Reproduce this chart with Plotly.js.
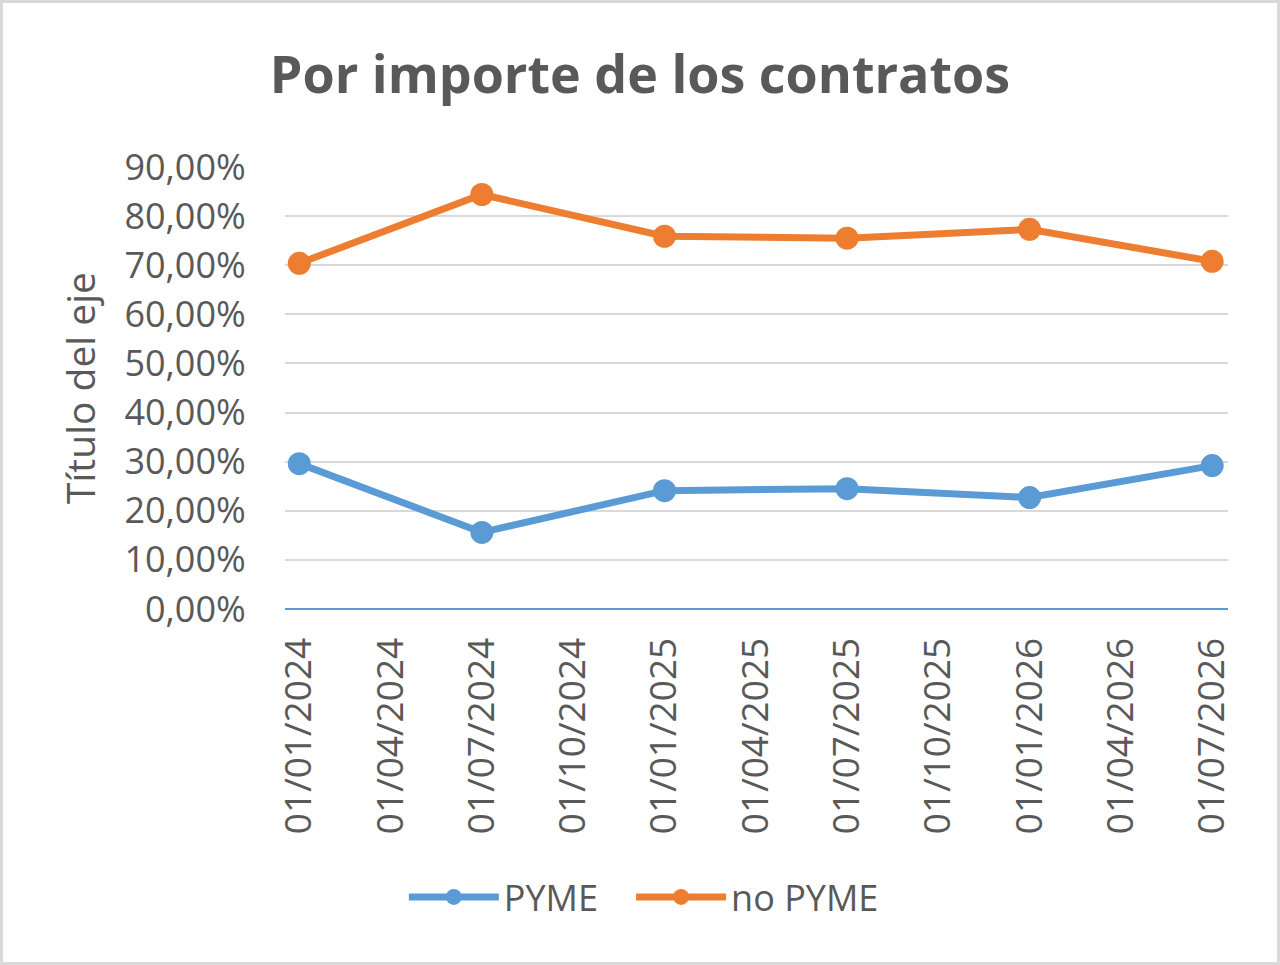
<!DOCTYPE html>
<html>
<head>
<meta charset="utf-8">
<script src="https://cdn.plot.ly/plotly-3.0.1.min.js"></script>
<style>
  html, body { margin: 0; padding: 0; background: #fff; }
  #wrap { position: relative; width: 1280px; height: 965px; }
  #chart { width: 1280px; height: 965px; }
  #frame { position: absolute; left: 0; top: 0; width: 1280px; height: 965px;
           box-sizing: border-box; border: 3px solid #D9D9D9; pointer-events: none; }
</style>
</head>
<body>
<div id="wrap"><div id="chart"></div><div id="frame"></div></div>
<script>
// Fechas de corte (dd/mm/aaaa) y porcentaje del importe adjudicado
const fechas = ["01/01/2024", "01/07/2024", "01/01/2025", "01/07/2025", "01/01/2026", "01/07/2026"];
const pyme   = [0.296, 0.156, 0.241, 0.245, 0.227, 0.292];
const noPyme = [0.704, 0.844, 0.759, 0.755, 0.773, 0.708];
const series = ["PYME", "no PYME"];

// Etiquetas del eje horizontal: trimestral
const etiquetasEje = ["01/01/2024", "01/04/2024", "01/07/2024", "01/10/2024",
                      "01/01/2025", "01/04/2025", "01/07/2025", "01/10/2025",
                      "01/01/2026", "01/04/2026", "01/07/2026"];

// Posición en meses desde enero de 2024 (eje de fechas con unidad base mensual)
function mesIndice(s) {
  const [d, m, y] = s.split("/").map(Number);
  return (y - 2024) * 12 + (m - 1);
}
const xs = fechas.map(mesIndice);
const xt = etiquetasEje.map(mesIndice);

const gris = "#595959";
const fuente = "Open Sans, Noto Sans, sans-serif";
const hueco = "\u00A0\u00A0\u00A0"; // separación entre entradas de la leyenda

const trazas = [
  { name: series[0] + hueco, x: xs, y: pyme, type: "scatter", mode: "lines+markers",
    line: { color: "#5B9BD5", width: 7 }, marker: { color: "#5B9BD5", size: 23 } },
  { name: series[1], x: xs, y: noPyme, type: "scatter", mode: "lines+markers",
    line: { color: "#ED7D31", width: 7 }, marker: { color: "#ED7D31", size: 23 } }
];

const layout = {
  width: 1280, height: 965,
  paper_bgcolor: "#fff", plot_bgcolor: "#fff",
  separators: ",.",
  margin: { l: 285, r: 52, t: 167, b: 356 },
  showlegend: true,
  font: { family: fuente, color: gris, size: 36 },
  title: { text: "<b>Por importe de los contratos</b>", x: 0.5, xref: "container",
           y: 1 - 75 / 965, yref: "container", yanchor: "middle",
           font: { family: fuente, size: 52, color: gris } },
  xaxis: {
    range: [-0.47, 30.52], tickmode: "array", tickvals: xt, ticktext: etiquetasEje,
    tickangle: -90, ticks: "outside", ticklen: 13, tickcolor: "rgba(0,0,0,0)",
    showgrid: false, zeroline: false, showline: false,
    tickfont: { family: fuente, size: 37, color: gris }
  },
  yaxis: {
    range: [0, 0.9], dtick: 0.1, tick0: 0, tickformat: ".2%",
    ticks: "outside", ticklen: 31, tickcolor: "rgba(0,0,0,0)",
    showgrid: true, gridcolor: "#D9D9D9", gridwidth: 2,
    zeroline: true, zerolinecolor: "#5B9BD5", zerolinewidth: 2,
    showline: false,
    tickfont: { family: fuente, size: 36, color: gris },
    title: { text: "Título del eje", standoff: 16, font: { family: fuente, size: 39, color: gris } }
  },
  legend: {
    orientation: "h", x: 0.503, xref: "container", xanchor: "center",
    y: 1 - 897 / 965, yref: "container", yanchor: "middle",
    itemwidth: 90, font: { family: fuente, size: 36, color: gris }
  }
};

Plotly.newPlot("chart", trazas, layout, { displayModeBar: false, staticPlot: true });
</script>
</body>
</html>
